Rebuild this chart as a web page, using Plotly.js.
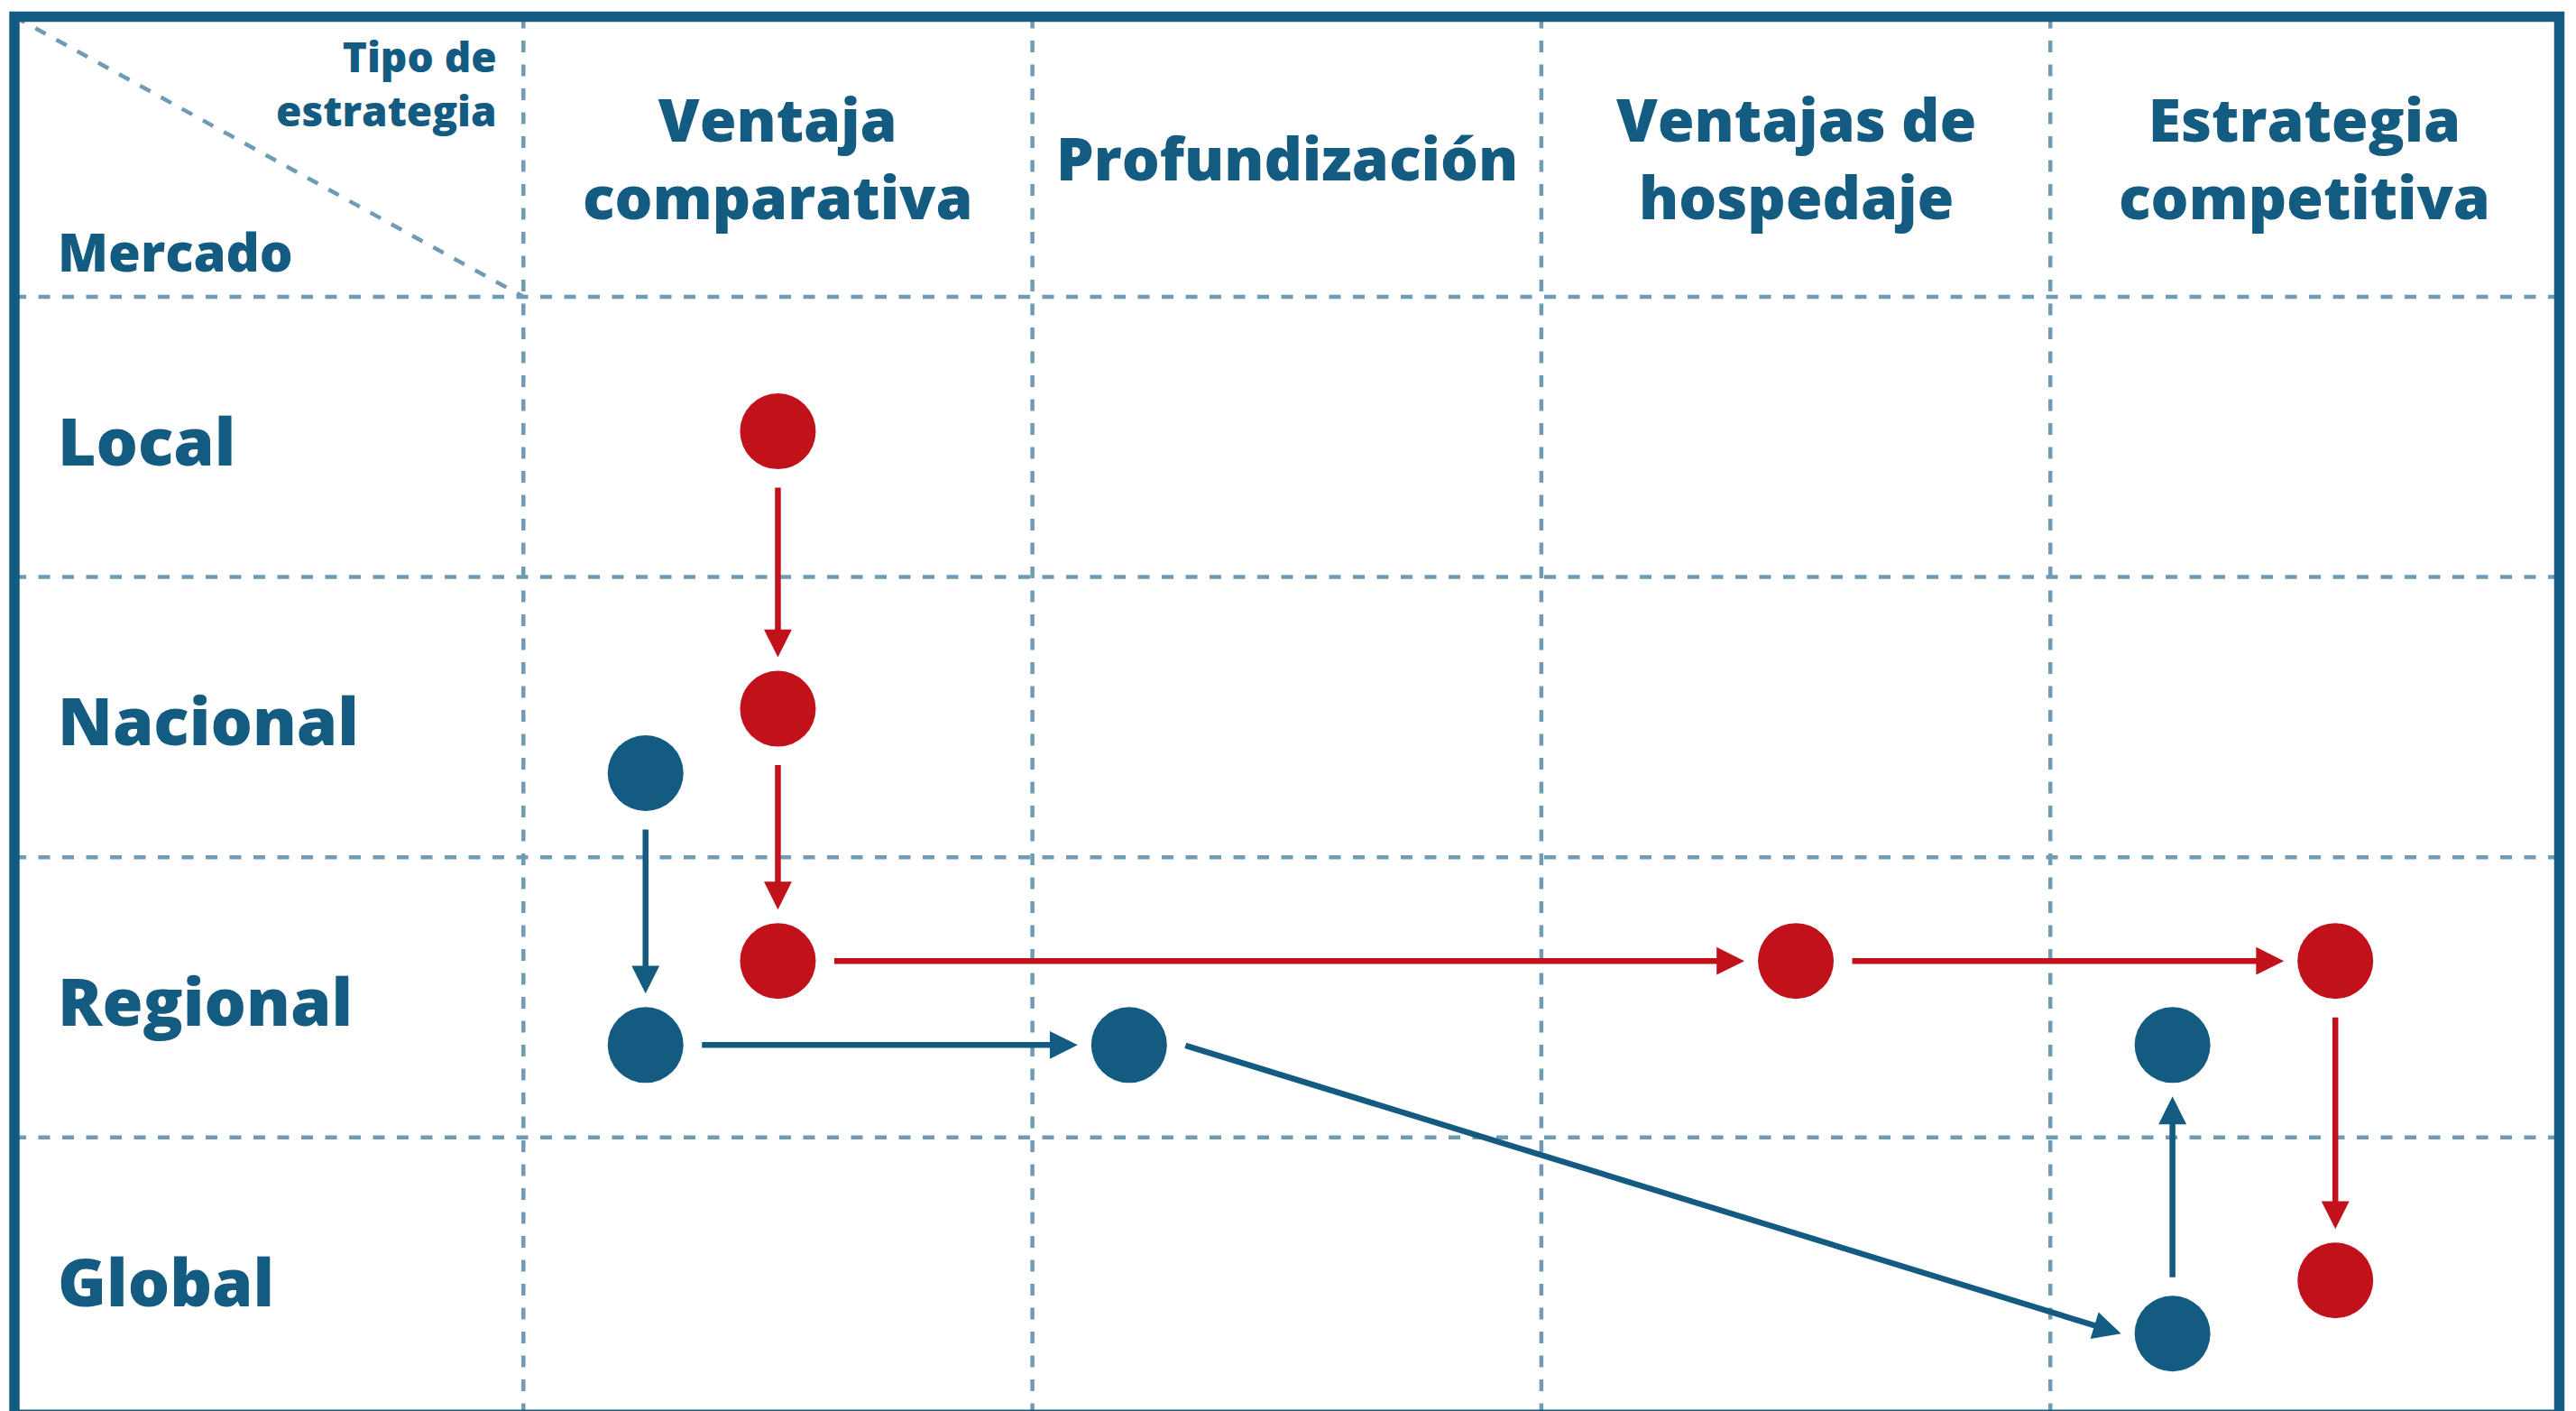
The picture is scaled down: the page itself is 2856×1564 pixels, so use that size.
<!DOCTYPE html>
<html>
<head>
<meta charset="utf-8">
<script src="https://cdn.plot.ly/plotly-3.0.1.min.js"></script>
<style>
  html, body { margin: 0; padding: 0; background: #ffffff; }
  #chart { width: 2856px; height: 1564px; }
</style>
</head>
<body>
<div id="chart"></div>
<script>
// ---- Data ----
const colLabels = ["Ventaja<br>comparativa", "Profundización", "Ventajas de<br>hospedaje", "Estrategia<br>competitiva"];
const rowLabels = ["Local", "Nacional", "Regional", "Global"];
const cornerTop = "Tipo de<br>estrategia";
const cornerBottom = "Mercado";

// red path (in order)
const redX = [1.50, 1.50, 1.50, 3.50, 4.56, 4.56];
const redY = [1.48, 2.47, 3.37, 3.37, 3.37, 4.51];
// blue path (in order)
const blueX = [1.24, 1.24, 2.19, 4.24, 4.24];
const blueY = [2.70, 3.67, 3.67, 4.70, 3.67];

// ---- Styles ----
const W = 2856, H = 1564;
const DARK = "#135b80";
const RED = "#c1121c";
const GRID = "#6f9cb4";
const FONT = "Open Sans";
const WEIGHT = 800;
const xRange = [-0.02835, 5.0328];
const yRange = [4.976, -0.0592];
const PXX = W / (xRange[1] - xRange[0]);
const PXY = H / (yRange[0] - yRange[1]);

const traces = [
  { x: redX, y: redY, type: "scatter", mode: "markers",
    marker: { size: 84, color: RED, line: { width: 0 } }, hoverinfo: "skip" },
  { x: blueX, y: blueY, type: "scatter", mode: "markers",
    marker: { size: 84, color: DARK, line: { width: 0 } }, hoverinfo: "skip" }
];

const annotations = [];
const START = 61, END = 57;
function addArrows(X, Y, color) {
  for (let i = 0; i < X.length - 1; i++) {
    const x1 = X[i], y1 = Y[i], x2 = X[i + 1], y2 = Y[i + 1];
    const dxp = (x2 - x1) * PXX, dyp = (y2 - y1) * PXY;
    let tx, ty, hx, hy;
    if (Math.abs(dxp) >= Math.abs(dyp)) {
      const s = Math.sign(dxp);
      tx = x1 + s * START / PXX; ty = y1;
      hx = x2 - s * END / PXX; hy = y2;
    } else {
      const s = Math.sign(dyp);
      tx = x1; ty = y1 + s * START / PXY;
      hx = x2; hy = y2 - s * END / PXY;
    }
    annotations.push({
      x: hx, y: hy, ax: tx, ay: ty,
      xref: "x", yref: "y", axref: "x", ayref: "y",
      text: "", showarrow: true, arrowhead: 2, arrowsize: 0.95,
      arrowwidth: 6.5, arrowcolor: color, standoff: 0, startstandoff: 0
    });
  }
}
addArrows(redX, redY, RED);
addArrows(blueX, blueY, DARK);

// column headers
colLabels.forEach((lab, i) => {
  annotations.push({
    x: i + 1.5, y: 0.5, xref: "x", yref: "y", text: lab, showarrow: false,
    xanchor: "center", yanchor: "middle", align: "center",
    font: { family: FONT, size: 66, color: DARK, weight: WEIGHT }
  });
});
// row labels
rowLabels.forEach((lab, i) => {
  annotations.push({
    x: 0, y: i + 1.5, xref: "x", yref: "y", text: lab, showarrow: false,
    xanchor: "left", yanchor: "middle", xshift: 46, yshift: -3,
    font: { family: FONT, size: 73, color: DARK, weight: WEIGHT }
  });
});
// corner labels
annotations.push({
  x: 1, y: 0.2385, xref: "x", yref: "y", text: cornerTop, showarrow: false,
  xanchor: "right", yanchor: "middle", align: "right", xshift: -27,
  font: { family: FONT, size: 46, color: DARK, weight: WEIGHT }
});
annotations.push({
  x: 0, y: 0.837, xref: "x", yref: "y", text: cornerBottom, showarrow: false,
  xanchor: "left", yanchor: "middle", xshift: 46,
  font: { family: FONT, size: 58, color: DARK, weight: WEIGHT }
});

// grid shapes
const shapes = [];
const dash = "13px,13.5px";
for (let k = 1; k <= 4; k++) {
  shapes.push({ type: "line", xref: "x", yref: "y", x0: k, x1: k, y0: 0, y1: 5,
    line: { color: GRID, width: 4.5, dash: dash }, layer: "below" });
  shapes.push({ type: "line", xref: "x", yref: "y", x0: 0, x1: 5, y0: k, y1: k,
    line: { color: GRID, width: 4.5, dash: dash }, layer: "below" });
}
shapes.push({ type: "line", xref: "x", yref: "y", x0: 0, x1: 1, y0: 0, y1: 1,
  line: { color: GRID, width: 4.5, dash: dash }, layer: "below" });
shapes.push({ type: "rect", xref: "x", yref: "y", x0: 0, x1: 5, y0: 0, y1: 4.99,
  line: { color: DARK, width: 11.5 }, fillcolor: "rgba(0,0,0,0)", layer: "above" });

const layout = {
  width: W, height: H,
  margin: { l: 0, r: 0, t: 0, b: 0, pad: 0 },
  paper_bgcolor: "#ffffff", plot_bgcolor: "#ffffff",
  showlegend: false,
  xaxis: { range: xRange, showgrid: false, zeroline: false, showticklabels: false, ticks: "", showline: false, fixedrange: true },
  yaxis: { range: yRange, showgrid: false, zeroline: false, showticklabels: false, ticks: "", showline: false, fixedrange: true },
  annotations: annotations,
  shapes: shapes
};

Plotly.newPlot("chart", traces, layout, { displayModeBar: false, staticPlot: true });
</script>
</body>
</html>
